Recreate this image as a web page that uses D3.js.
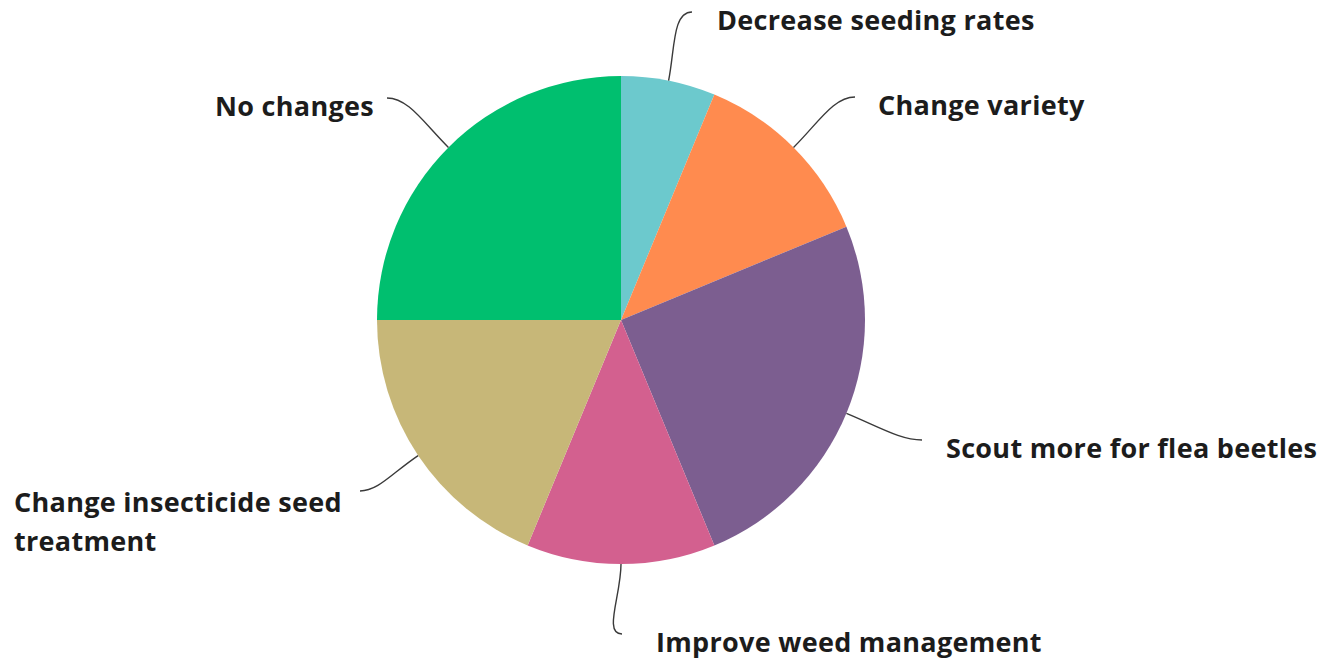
<!DOCTYPE html>
<html>
<head>
<meta charset="utf-8">
<script src="https://cdn.jsdelivr.net/npm/d3@7"></script>
<style>
  html, body { margin: 0; padding: 0; background: #fff; }
  svg { display: block; }
</style>
</head>
<body>
<svg id="chart" width="1321" height="662"></svg>
<script>
// answers, clockwise from 12 o'clock
const categories = [
  "Decrease seeding rates",
  "Change variety",
  "Scout more for flea beetles",
  "Improve weed management",
  "Change insecticide seed treatment",
  "No changes"
]
const values = [6.25, 12.5, 25, 12.5, 18.75, 25]
const colors = ["#6cc9cd", "#ff8b4f", "#7c5e90", "#d3608f", "#c7b778", "#00bf6f"]
// label text lines (wrapped like the original)
const labelLines = [
  ["Decrease seeding rates"],
  ["Change variety"],
  ["Scout more for flea beetles"],
  ["Improve weed management"],
  ["Change insecticide seed", "treatment"],
  ["No changes"]
]

const cx = 621, cy = 320, radius = 244

const svg = d3.select("#chart")
const g = svg.append("g").attr("transform", `translate(${cx},${cy})`)

const pie = d3.pie().sort(null).value(d => d.value)
const arc = d3.arc().innerRadius(0).outerRadius(radius)

const data = categories.map((c, i) => ({ name: c, value: values[i], color: colors[i], lines: labelLines[i] }))
const arcs = pie(data)

g.selectAll("path.slice")
  .data(arcs)
  .enter().append("path")
  .attr("class", "slice")
  .attr("d", arc)
  .attr("fill", d => d.data.color)

// where each leader line ends (relative to centre), label side and gap
const leaderEnds = [
  { dx: 71, dy: -308, side: "right", gap: 25 },
  { dx: 234, dy: -223, side: "right", gap: 23 },
  { dx: 301, dy: 120, side: "right", gap: 24 },
  { dx: 1, dy: 314, side: "right", gap: 34 },
  { dx: -261, dy: 171, side: "left", gap: 0 },
  { dx: -234, dy: -222, side: "left", gap: 13 }
]

const fontSize = 27
const lineH = 39

arcs.forEach((a, i) => {
  const mid = (a.startAngle + a.endAngle) / 2
  const ux = Math.sin(mid), uy = -Math.cos(mid)
  const x0 = ux * radius, y0 = uy * radius
  const end = leaderEnds[i]
  const dir = end.side === "right" ? 1 : -1
  const dist = Math.hypot(end.dx - x0, end.dy - y0)
  const k = dist * 0.45
  const path = d3.path()
  path.moveTo(x0, y0)
  path.bezierCurveTo(x0 + ux * k, y0 + uy * k,
    end.dx - dir * k * 0.6, end.dy,
    end.dx, end.dy)
  g.append("path")
    .attr("d", path.toString())
    .attr("fill", "none")
    .attr("stroke", "#3a3a3a")
    .attr("stroke-width", 1.4)

  const text = g.append("text")
    .attr("x", end.dx + dir * end.gap)
    .attr("y", end.dy + 18)
    .attr("text-anchor", end.side === "right" ? "start" : "end")
    .attr("font-family", "'Open Sans', Roboto, sans-serif")
    .attr("font-weight", 700)
    .attr("font-size", fontSize)
    .attr("letter-spacing", 0.3)
    .attr("fill", "#1c1c1c")

  if (a.data.lines.length > 1) {
    // wrapped label: left aligned block ending near the line
    text.attr("text-anchor", "start").attr("x", -607)
    a.data.lines.forEach((ln, j) => {
      text.append("tspan").attr("x", -607).attr("dy", j === 0 ? 0 : lineH).text(ln)
    })
    text.attr("y", end.dy + 21)
  } else {
    text.text(a.data.lines[0])
  }
})
</script>
</body>
</html>
